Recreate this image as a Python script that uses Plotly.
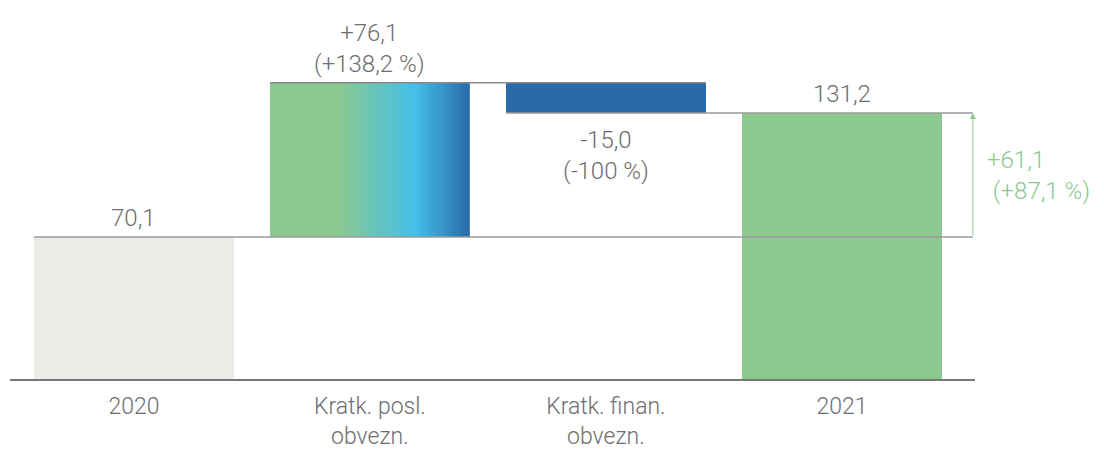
import plotly.graph_objects as go

categories = ["2020", "Kratk. posl.<br>obvezn.", "Kratk. finan.<br>obvezn.", "2021"]
start_value = 70.1
changes = [76.1, -15.0]
end_value = 131.2
change_pct = [138.2, -100.0]
total_change = 61.1
total_pct = 87.1

GREY_TXT = "#6d6e70"
GREEN = "#8bc98f"
BLUE = "#286ba8"
BASE_GREY = "#edebe8"
LINE = "#9a9a9a"
FONT = "Roboto"
W = 0.847
ARROW_X = 3.555


def fmt(v, sign=False):
    s = f"{v:+.1f}" if sign else f"{v:.1f}"
    return s.replace(".", ",")


fig = go.Figure()

# 2020 bar and 2021 bar
fig.add_trace(go.Bar(x=[0, 3], y=[start_value, end_value], base=[0, 0], width=W,
                     marker=dict(color=[BASE_GREY, GREEN], line=dict(width=0)),
                     hoverinfo="skip", showlegend=False))

# step levels
lvl0 = start_value
lvl1 = start_value + changes[0]
lvl2 = lvl1 + changes[1]

# gradient bar for first change
fig.add_trace(go.Scatter(
    x=[1 - W / 2, 1 + W / 2, 1 + W / 2, 1 - W / 2, 1 - W / 2],
    y=[lvl0, lvl0, lvl1, lvl1, lvl0],
    mode="none", fill="toself",
    fillgradient=dict(type="horizontal",
                      colorscale=[[0, GREEN], [0.34, GREEN], [0.725, "#44bfea"], [1, BLUE]]),
    hoverinfo="skip", showlegend=False))

# second change bar
fig.add_trace(go.Bar(x=[2], y=[lvl1 - lvl2], base=[lvl2], width=W,
                     marker=dict(color=BLUE, line=dict(width=0)),
                     hoverinfo="skip", showlegend=False))

shapes = [
    dict(type="line", xref="x", yref="y", x0=0 - W / 2, x1=ARROW_X, y0=lvl0, y1=lvl0,
         line=dict(color=LINE, width=1.5), layer="above"),
    dict(type="line", xref="x", yref="y", x0=1 - W / 2, x1=2 + W / 2, y0=lvl1, y1=lvl1,
         line=dict(color="#888", width=1.5), layer="above"),
    dict(type="line", xref="x", yref="y", x0=2 - W / 2, x1=ARROW_X, y0=lvl2, y1=lvl2,
         line=dict(color=LINE, width=1.5), layer="above"),
]

tfont = dict(family=FONT, size=24, color=GREY_TXT, weight=300)
annotations = [
    dict(x=0, y=start_value, xref="x", yref="y", text=fmt(start_value), showarrow=False,
         yanchor="bottom", yshift=3, font=tfont),
    dict(x=1, y=lvl1, xref="x", yref="y",
         text=f"{fmt(changes[0], True)}<br>({fmt(change_pct[0], True)} %)",
         showarrow=False, yanchor="bottom", yshift=3, font=tfont),
    dict(x=2, y=lvl2, xref="x", yref="y",
         text=f"{fmt(changes[1], True)}<br>({change_pct[1]:+.0f} %)",
         showarrow=False, yanchor="top", yshift=-11, font=tfont),
    dict(x=3, y=end_value, xref="x", yref="y", text=fmt(end_value), showarrow=False,
         yanchor="bottom", yshift=3, font=tfont),
    dict(x=ARROW_X, y=end_value, xref="x", yref="y", ax=ARROW_X, ay=start_value,
         axref="x", ayref="y", text="", showarrow=True, arrowhead=2, arrowsize=1.2,
         arrowwidth=1, arrowcolor=GREEN, standoff=0, startstandoff=0),
    dict(x=ARROW_X, y=(start_value + end_value) / 2, xref="x", yref="y",
         text=f"{fmt(total_change, True)}<br>\u00a0({fmt(total_pct, True)} %)",
         showarrow=False, xanchor="left", yanchor="middle", xshift=12, align="left",
         font=dict(family=FONT, size=24, color=GREEN, weight=300)),
]

fig.update_layout(
    width=1104, height=450,
    margin=dict(l=10, r=129, t=0, b=71, autoexpand=False),
    plot_bgcolor="white", paper_bgcolor="white",
    bargap=0, barmode="overlay",
    shapes=shapes, annotations=annotations,
    xaxis=dict(range=[-0.525, 3.564], tickmode="array", tickvals=[0, 1, 2, 3],
               ticktext=categories, showgrid=False, zeroline=False, automargin=False,
               showline=True, linecolor="#777", linewidth=2,
               ticks="outside", ticklen=5, tickcolor="rgba(0,0,0,0)",
               tickfont=dict(family=FONT, size=23, color=GREY_TXT, weight=300)),
    yaxis=dict(range=[0, 187], visible=False, showgrid=False, zeroline=False,
               automargin=False),
)

fig.write_html("out.html", config={"displayModeBar": False},
               post_script="document.body.style.margin='0';document.body.style.overflow='hidden';")
